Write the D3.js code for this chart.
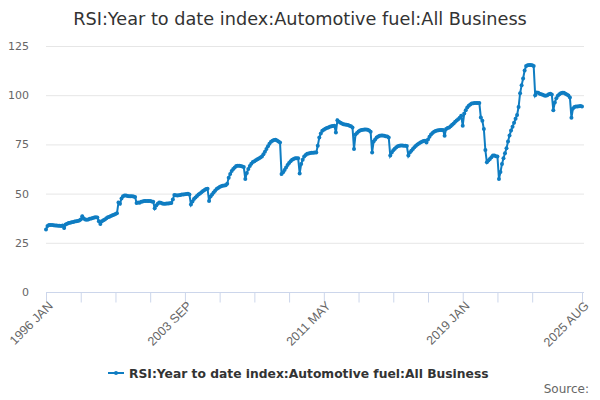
<!DOCTYPE html>
<html>
<head>
<meta charset="utf-8">
<script src="https://cdn.jsdelivr.net/npm/d3@7"></script>
<style>
  body { margin: 0; background: #fff; }
  svg { font-family: "DejaVu Sans", "Noto Sans", sans-serif; }
</style>
</head>
<body>
<svg id="chart" width="600" height="400"></svg>
<script>
const title = "RSI:Year to date index:Automotive fuel:All Business";
const seriesName = "RSI:Year to date index:Automotive fuel:All Business";
const monthNames = ["JAN","FEB","MAR","APR","MAY","JUN","JUL","AUG","SEP","OCT","NOV","DEC"];
const startYear = 1996;
const yTicks = [0, 25, 50, 75, 100, 125];
const tickLabels = ["1996 JAN", "2003 SEP", "2011 MAY", "2019 JAN", "2025 AUG"];

// monthly values, one row per year
const values = [
  31.8, 33.5, 34.0, 34.0, 34.0, 33.9, 33.8, 33.8, 33.7, 33.7, 33.6, 33.8, // 1996
  32.5, 34.3, 34.7, 35.0, 35.2, 35.5, 35.6, 35.8, 36.0, 36.1, 36.3, 36.8, // 1997
  38.5, 37.3, 36.9, 36.7, 36.9, 37.2, 37.4, 37.6, 37.8, 38.0, 37.9, 36.0, // 1998
  34.6, 36.0, 36.4, 36.9, 37.5, 38.0, 38.3, 38.6, 39.0, 39.3, 39.6, 40.0, // 1999
  45.5, 44.8, 47.5, 48.7, 49.0, 49.0, 48.8, 48.7, 48.6, 48.6, 48.5, 48.3, // 2000
  45.2, 45.5, 45.3, 45.8, 46.0, 46.2, 46.3, 46.3, 46.2, 46.2, 46.0, 45.8, // 2001
  42.5, 44.0, 44.8, 45.5, 45.3, 45.0, 44.9, 44.9, 45.0, 45.0, 45.1, 45.2, // 2002
  47.0, 49.3, 49.2, 49.0, 49.1, 49.3, 49.5, 49.6, 49.7, 49.8, 49.9, 49.5, // 2003
  44.5, 46.0, 47.3, 48.0, 48.8, 49.5, 50.0, 50.7, 51.3, 51.8, 52.3, 52.5, // 2004
  46.2, 48.5, 49.5, 50.5, 51.5, 52.3, 52.8, 53.3, 53.7, 54.0, 54.1, 54.2, // 2005
  55.0, 58.0, 60.0, 61.5, 62.5, 63.3, 64.0, 64.2, 64.2, 64.0, 63.8, 63.5, // 2006
  57.4, 60.5, 62.5, 64.0, 65.2, 66.0, 66.5, 67.0, 67.4, 67.8, 68.3, 68.8, // 2007
  70.0, 71.3, 72.6, 74.0, 75.3, 76.3, 76.9, 77.2, 77.3, 77.0, 76.5, 76.0, // 2008
  60.0, 60.8, 62.0, 63.3, 64.5, 65.5, 66.5, 67.2, 67.6, 67.9, 68.0, 68.0, // 2009
  60.2, 65.0, 67.2, 68.8, 69.6, 70.2, 70.4, 70.6, 70.7, 70.8, 70.9, 70.9, // 2010
  74.3, 78.5, 80.5, 81.9, 82.5, 83.0, 83.3, 83.6, 84.0, 84.2, 84.4, 84.5, // 2011
  81.0, 87.3, 86.5, 86.0, 85.6, 85.3, 85.1, 85.0, 84.8, 84.5, 84.2, 83.6, // 2012
  72.6, 80.0, 80.8, 81.5, 82.0, 82.3, 82.5, 82.6, 82.6, 82.4, 82.0, 81.4, // 2013
  70.9, 76.5, 77.5, 78.5, 79.0, 79.4, 79.5, 79.5, 79.4, 79.2, 79.0, 78.5, // 2014
  69.3, 70.9, 72.0, 72.8, 73.5, 74.0, 74.3, 74.4, 74.4, 74.3, 74.3, 74.2, // 2015
  69.3, 70.9, 71.8, 72.7, 73.5, 74.3, 75.0, 75.5, 76.0, 76.3, 76.7, 76.9, // 2016
  76.0, 77.5, 78.9, 80.0, 80.8, 81.4, 81.8, 82.0, 82.2, 82.3, 82.3, 82.3, // 2017
  79.4, 82.8, 83.3, 83.6, 84.2, 85.0, 85.6, 86.5, 87.2, 87.8, 88.6, 89.5, // 2018
  84.5, 90.7, 92.3, 93.8, 94.6, 95.3, 95.8, 95.9, 96.0, 96.0, 96.0, 96.0, // 2019
  88.7, 87.0, 82.8, 72.1, 65.9, 66.8, 67.6, 68.5, 69.3, 69.3, 69.0, 68.8, // 2020
  57.4, 61.0, 65.0, 68.0, 70.5, 73.0, 76.5, 79.5, 82.0, 84.0, 86.0, 88.0, // 2021
  90.0, 94.0, 101.0, 105.0, 108.5, 112.5, 114.8, 115.2, 115.3, 115.3, 115.2, 114.8, // 2022
  100.0, 101.4, 101.2, 100.8, 100.5, 100.2, 99.8, 99.7, 100.0, 100.5, 100.8, 100.3, // 2023
  92.4, 96.3, 98.5, 99.7, 100.5, 101.0, 101.3, 101.2, 100.8, 100.3, 99.8, 98.8, // 2024
  88.5, 93.2, 94.0, 94.2, 94.3, 94.4, 94.5, 94.3 // 2025
];

const categories = values.map((v, i) =>
  (startYear + Math.floor(i / 12)) + " " + monthNames[i % 12]);
const data = values.map((v, i) => ({ cat: categories[i], value: v }));

const svg = d3.select("#chart");
const plotLeft = 46, plotRight = 582, plotTop = 46, plotBottom = 292;
const color = "#0f7dc2";

const x = d3.scalePoint().domain(categories).range([plotLeft, plotRight]);
const y = d3.scaleLinear().domain([0, 125]).range([plotBottom, plotTop]);

// title
svg.append("text")
  .attr("x", 300).attr("y", 25)
  .attr("text-anchor", "middle")
  .attr("font-size", 17.7)
  .attr("fill", "#333")
  .text(title);

// grid + y labels
svg.append("g").selectAll("line")
  .data(yTicks.filter(d => d > 0))
  .join("line")
  .attr("x1", plotLeft).attr("x2", plotRight + 2)
  .attr("y1", d => y(d) + 0.5).attr("y2", d => y(d) + 0.5)
  .attr("stroke", "#e6e6e6");

svg.append("g").selectAll("text")
  .data(yTicks)
  .join("text")
  .attr("x", 29).attr("y", d => y(d) + 4)
  .attr("text-anchor", "end")
  .attr("font-size", 11)
  .attr("fill", "#666")
  .text(d => d);

// x axis
const tickIdx = d3.range(0, values.length - 20, 23).concat([values.length - 1]);
const xAxis = d3.axisBottom(x)
  .tickValues(tickIdx.map(i => categories[i]))
  .tickSize(10)
  .tickFormat(d => tickLabels.includes(d) ? d : "");

const gx = svg.append("g")
  .attr("transform", `translate(0,${plotBottom + 0.5})`)
  .call(xAxis);
gx.select(".domain").attr("stroke", "#ccd6eb").attr("d", `M${plotLeft},0H${plotRight + 2}`);
gx.selectAll(".tick line").attr("stroke", "#ccd6eb");
gx.selectAll(".tick text")
  .attr("font-size", 12.5)
  .attr("fill", "#666")
  .attr("text-anchor", "end")
  .attr("transform", "translate(4,11) rotate(-45)")
  .attr("dy", "0.35em")
  .attr("y", 0).attr("x", 0);

// line
const line = d3.line().x(d => x(d.cat)).y(d => y(d.value));
svg.append("path")
  .datum(data)
  .attr("d", line)
  .attr("fill", "none")
  .attr("stroke", color)
  .attr("stroke-width", 2);

svg.append("g").selectAll("circle")
  .data(data)
  .join("circle")
  .attr("cx", d => x(d.cat))
  .attr("cy", d => y(d.value))
  .attr("r", 2)
  .attr("fill", color);

// legend
const lg = svg.append("g").attr("transform", "translate(108,373)");
lg.append("line").attr("x1", 0).attr("x2", 16).attr("y1", 0).attr("y2", 0)
  .attr("stroke", color).attr("stroke-width", 2);
lg.append("circle").attr("cx", 8).attr("cy", 0).attr("r", 2).attr("fill", color);
lg.append("text").attr("x", 21).attr("y", 4.5)
  .attr("font-size", 12.3).attr("font-weight", "bold").attr("fill", "#333")
  .text(seriesName);

// source
svg.append("text")
  .attr("x", 589).attr("y", 393)
  .attr("text-anchor", "end")
  .attr("font-size", 12)
  .attr("fill", "#666")
  .text("Source:");
</script>
</body>
</html>
